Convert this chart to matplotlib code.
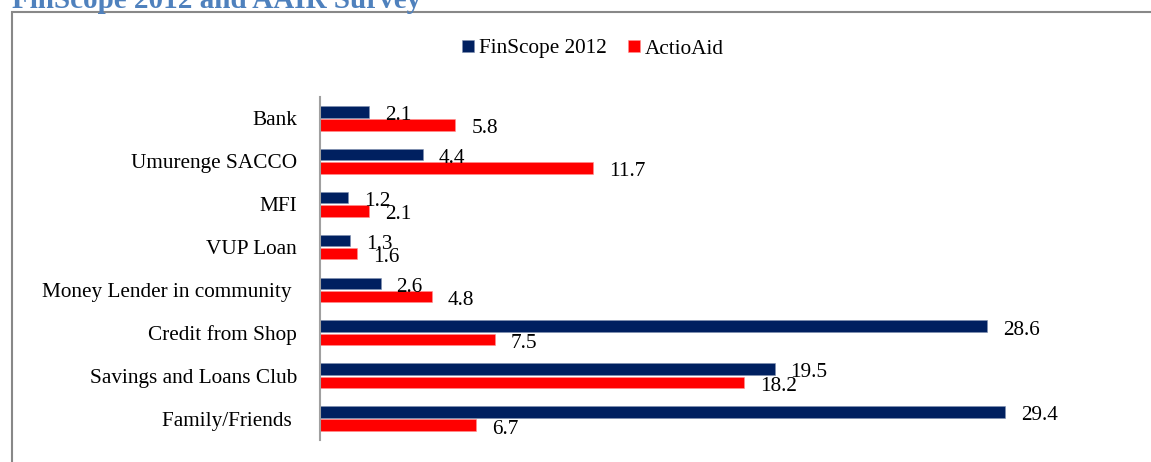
import numpy as np
import matplotlib
matplotlib.use('Agg')
import matplotlib.pyplot as plt
from matplotlib.patches import Rectangle

plt.rcParams['font.family'] = ['Liberation Serif', 'DejaVu Serif']

categories = ['Bank', 'Umurenge SACCO', 'MFI', 'VUP Loan',
              'Money Lender in community ', 'Credit from Shop',
              'Savings and Loans Club', 'Family/Friends ']
finscope = [2.1, 4.4, 1.2, 1.3, 2.6, 28.6, 19.5, 29.4]
actioaid = [5.8, 11.7, 2.1, 1.6, 4.8, 7.5, 18.2, 6.7]

navy = '#002060'
red = '#FF0000'

W, H = 1151, 462
fig = plt.figure(figsize=(W / 100, H / 100), dpi=100)

# axes placed in pixels
ax = fig.add_axes([320 / W, 1 - 440 / H, (1136 - 320) / W, (440 - 97) / H])

y = np.arange(len(categories))
off = 0.155
h = 0.27
b1 = ax.barh(y - off, finscope, height=h, color=navy, edgecolor='#8090b0', linewidth=0.4)
b2 = ax.barh(y + off, actioaid, height=h, color=red, edgecolor='#ff9090', linewidth=0.4)

for bars, vals in ((b1, finscope), (b2, actioaid)):
    for rect, v in zip(bars, vals):
        ax.annotate(f'{v:.1f}', (rect.get_width(), rect.get_y() + rect.get_height() / 2),
                    xytext=(11.5, -1), textcoords='offset points',
                    ha='left', va='center_baseline', fontsize=15.3, color='black')

ax.set_xlim(0, 35)
ax.set_ylim(len(categories) - 0.5, -0.5)
ax.set_yticks(y)
ax.set_yticklabels(categories, fontsize=15.3)
ax.tick_params(axis='y', length=0, pad=16.5)
ax.set_xticks([])
for s in ('top', 'right', 'bottom'):
    ax.spines[s].set_visible(False)
ax.spines['left'].set_color('#a0a0a0')
ax.spines['left'].set_linewidth(1.5)

# legend
ax.legend([b1, b2], ['FinScope 2012', 'ActioAid'], loc='center',
          bbox_to_anchor=(593 / W, 1 - 49 / H), bbox_transform=fig.transFigure,
          ncol=2, frameon=False, fontsize=15.3, handlelength=0.55, handleheight=0.55,
          handletextpad=0.25, columnspacing=1.0)

# chart border (extends past right / bottom edge)
fig.patches.append(Rectangle((12 / W, -0.2), 1.2, 1.2 - 12 / H, transform=fig.transFigure,
                             fill=False, edgecolor='#888888', linewidth=1.5, clip_on=False))

fig.text(12 / W, 1 - 7.5 / H, 'FinScope 2012 and AAIR Survey', fontsize=21,
         fontweight='bold', color='#4F81BD', ha='left', va='baseline')

fig.savefig('out.png', dpi=100)
